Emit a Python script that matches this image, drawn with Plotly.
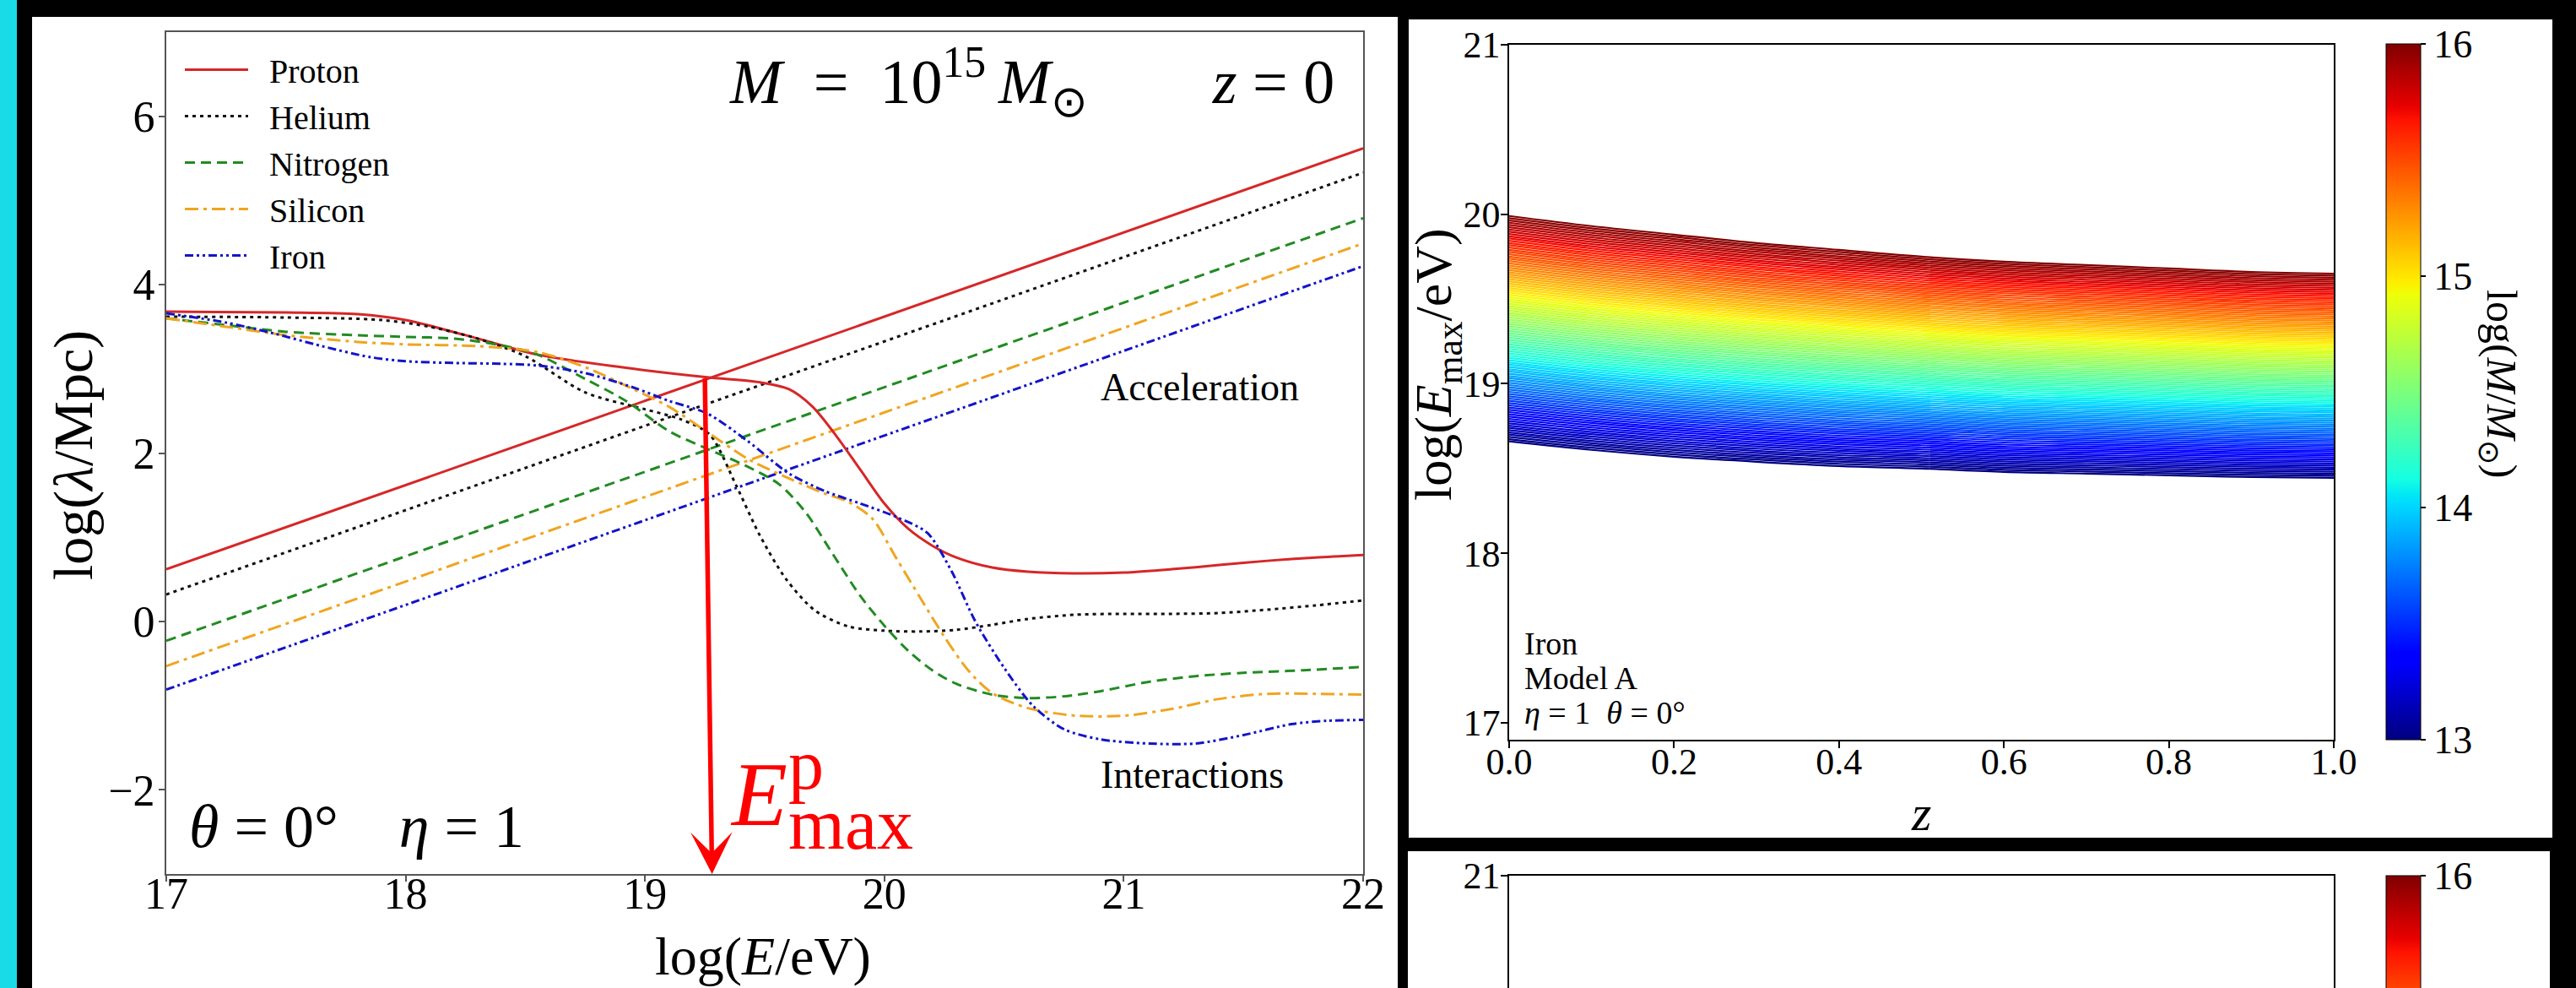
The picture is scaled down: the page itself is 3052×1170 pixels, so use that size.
import numpy as np
import plotly.graph_objects as go
from plotly.colors import sample_colorscale

W, H = 3052, 1170
FONT = "Liberation Serif"

# ---------------- Left panel data ----------------
species = ["Proton", "Helium", "Nitrogen", "Silicon", "Iron"]
colors = ["#d62728", "#111111", "#228b22", "#f0a520", "#1414c8"]
dashes = ["solid", "4px,5px", "12px,7px", "16px,6px,4px,6px", "10px,4px,3px,4px,3px,4px"]

# acceleration lengths (straight lines) at log E = 17 and 22
acc_x = [17.0, 22.0]
acc_proton = [0.62, 5.62]
acc_helium = [0.32, 5.33]
acc_nitrogen = [-0.23, 4.79]
acc_silicon = [-0.53, 4.49]
acc_iron = [-0.81, 4.22]

# interaction lengths
int_x_proton = [17.0, 17.5, 17.8, 18.0, 18.25, 18.55, 18.9, 19.26, 19.48, 19.6, 19.7, 19.8, 19.9,
                20.0, 20.1, 20.2, 20.3, 20.45, 20.6, 20.8, 21.0, 21.2, 21.4, 21.6, 21.8, 22.0]
int_y_proton = [3.68, 3.67, 3.65, 3.58, 3.40, 3.17, 3.02, 2.90, 2.84, 2.76, 2.55, 2.20, 1.80,
                1.40, 1.10, 0.90, 0.76, 0.64, 0.59, 0.57, 0.58, 0.62, 0.67, 0.72, 0.76, 0.79]

int_x_helium = [17.0, 17.5, 17.9, 18.1, 18.3, 18.5, 18.75, 19.0, 19.15, 19.27, 19.38, 19.48, 19.59,
                19.71, 19.85, 20.0, 20.15, 20.3, 20.45, 20.6, 20.8, 21.0, 21.2, 21.4, 21.6, 21.8, 22.0]
int_y_helium = [3.62, 3.61, 3.58, 3.50, 3.36, 3.15, 2.72, 2.52, 2.40, 2.22, 1.62, 1.02, 0.50,
                0.13, -0.06, -0.11, -0.12, -0.10, -0.04, 0.03, 0.08, 0.09, 0.09, 0.10, 0.14, 0.19, 0.25]

int_x_nitrogen = [17.0, 17.25, 17.5, 17.8, 18.0, 18.2, 18.4, 18.55, 18.75, 18.92, 19.1, 19.26, 19.42,
                  19.56, 19.67, 19.78, 19.9, 20.0, 20.1, 20.2, 20.3, 20.45, 20.6, 20.75, 20.9, 21.1,
                  21.3, 21.5, 21.75, 22.0]
int_y_nitrogen = [3.60, 3.52, 3.44, 3.40, 3.38, 3.36, 3.28, 3.17, 2.88, 2.62, 2.26, 2.05, 1.85,
                  1.63, 1.30, 0.82, 0.30, -0.05, -0.35, -0.58, -0.74, -0.87, -0.91, -0.89, -0.83, -0.72,
                  -0.65, -0.61, -0.58, -0.54]

int_x_silicon = [17.0, 17.25, 17.5, 17.8, 18.0, 18.3, 18.55, 18.75, 18.95, 19.1, 19.26, 19.43, 19.6,
                 19.75, 19.85, 19.95, 20.05, 20.15, 20.25, 20.35, 20.45, 20.6, 20.8, 21.0, 21.2, 21.4,
                 21.6, 21.8, 22.0]
int_y_silicon = [3.60, 3.50, 3.40, 3.32, 3.29, 3.27, 3.20, 3.02, 2.76, 2.55, 2.25, 1.93, 1.70,
                 1.52, 1.42, 1.22, 0.75, 0.28, -0.18, -0.58, -0.85, -1.03, -1.12, -1.12, -1.04, -0.92,
                 -0.86, -0.86, -0.87]

int_x_iron = [17.0, 17.25, 17.45, 17.65, 17.85, 18.0, 18.2, 18.4, 18.55, 18.75, 18.95, 19.1, 19.26,
              19.43, 19.6, 19.75, 19.9, 20.05, 20.18, 20.28, 20.38, 20.5, 20.62, 20.75, 20.9, 21.1,
              21.3, 21.5, 21.7, 21.85, 22.0]
int_y_iron = [3.66, 3.55, 3.42, 3.27, 3.14, 3.09, 3.07, 3.06, 3.04, 2.95, 2.78, 2.62, 2.47,
              2.14, 1.76, 1.55, 1.40, 1.24, 1.05, 0.60, 0.0, -0.55, -1.0, -1.28, -1.40, -1.45,
              -1.45, -1.35, -1.22, -1.18, -1.17]

# E_max^p arrow (from crossing point down to the axis)
arrow_x = [19.25, 19.28]
arrow_y = [2.90, -3.0]

left_xticks = [17, 18, 19, 20, 21, 22]
left_yticks = [-2, 0, 2, 4, 6]

# ---------------- Right panel data ----------------
z_grid = [0.0, 0.1, 0.2, 0.3, 0.4, 0.5, 0.6, 0.7, 0.8, 0.9, 1.0]
emax_top = [19.99, 19.93, 19.88, 19.83, 19.79, 19.75, 19.72, 19.70, 19.68, 19.66, 19.65]   # log M = 16
emax_bottom = [18.66, 18.61, 18.57, 18.54, 18.515, 18.50, 18.48, 18.47, 18.46, 18.45, 18.445]  # log M = 13
logM_min, logM_max = 13.0, 16.0
n_masses = 101
right_xticks = [0.0, 0.2, 0.4, 0.6, 0.8, 1.0]
right_yticks = [17, 18, 19, 20, 21]
cbar_ticks = [13, 14, 15, 16]

# matplotlib 'jet'
jet = [[0.0, "rgb(0,0,128)"], [0.11, "rgb(0,0,255)"], [0.125, "rgb(0,0,255)"],
       [0.34, "rgb(0,219,255)"], [0.35, "rgb(0,229,247)"], [0.375, "rgb(21,255,226)"],
       [0.64, "rgb(238,255,8)"], [0.65, "rgb(247,245,0)"], [0.66, "rgb(255,236,0)"],
       [0.89, "rgb(255,19,0)"], [0.91, "rgb(232,0,0)"], [1.0, "rgb(128,0,0)"]]

# ---------------- geometry helpers (layout) ----------------
def px(x):
    return x / W

def py(y):
    return 1 - y / H

fig = go.Figure()

# left panel traces
acc_all = [acc_proton, acc_helium, acc_nitrogen, acc_silicon, acc_iron]
int_all = [(int_x_proton, int_y_proton), (int_x_helium, int_y_helium),
           (int_x_nitrogen, int_y_nitrogen), (int_x_silicon, int_y_silicon),
           (int_x_iron, int_y_iron)]
for name, c, d, acc, (ix, iy) in zip(species, colors, dashes, acc_all, int_all):
    fig.add_trace(go.Scatter(x=acc_x, y=acc, mode="lines", showlegend=False,
                             line=dict(color=c, width=3, dash=d), xaxis="x", yaxis="y"))
for name, c, d, acc, (ix, iy) in zip(species, colors, dashes, acc_all, int_all):
    fig.add_trace(go.Scatter(x=ix, y=iy, mode="lines", name="\u00a0\u00a0" + name, showlegend=True,
                             line=dict(color=c, width=3, dash=d, shape="spline", smoothing=0.8),
                             xaxis="x", yaxis="y"))

# right panel fan of lines
logM_levels = np.linspace(logM_min, logM_max, n_masses)
line_cols = sample_colorscale(jet, list((logM_levels - logM_min) / (logM_max - logM_min)))
top = np.array(emax_top)
bot = np.array(emax_bottom)
for lm, col in zip(logM_levels, line_cols):
    f = (lm - logM_min) / (logM_max - logM_min)
    fig.add_trace(go.Scatter(x=z_grid, y=bot + f * (top - bot), mode="lines", showlegend=False,
                             line=dict(color=col, width=2.2, shape="spline"),
                             xaxis="x2", yaxis="y2", hoverinfo="skip"))

def cbar(ytop_px):
    return dict(x=px(2827), xanchor="left", xpad=0, y=py(ytop_px), yanchor="top", ypad=0,
                len=824 / H, lenmode="fraction", thickness=41, thicknessmode="pixels",
                outlinewidth=1, outlinecolor="black", tickvals=cbar_ticks, ticks="outside",
                ticklen=6, tickwidth=1.5, tickcolor="black",
                tickfont=dict(family=FONT, size=46, color="black"))

fig.add_trace(go.Scatter(x=z_grid[:1], y=emax_bottom[:1], mode="markers", showlegend=False,
                         marker=dict(size=1, opacity=0, color=[logM_min], cmin=logM_min, cmax=logM_max,
                                     colorscale=jet, showscale=True, colorbar=cbar(52)),
                         xaxis="x2", yaxis="y2", hoverinfo="skip"))
fig.add_trace(go.Scatter(x=z_grid[:1], y=emax_bottom[:1], mode="markers", showlegend=False,
                         marker=dict(size=1, opacity=0, color=[logM_min], cmin=logM_min, cmax=logM_max,
                                     colorscale=jet, showscale=True, colorbar=cbar(1037)),
                         xaxis="x3", yaxis="y3", hoverinfo="skip"))

tickfont_l = dict(family=FONT, size=52, color="black")
tickfont_r = dict(family=FONT, size=44, color="black")
common = dict(showgrid=False, zeroline=False, ticks="outside", showline=True)

fig.update_layout(
    width=W, height=H, autosize=False,
    margin=dict(l=0, r=0, t=0, b=0, pad=0, autoexpand=False),
    paper_bgcolor="black", plot_bgcolor="white",
    showlegend=True,
    legend=dict(x=px(214), y=py(50), xanchor="left", yanchor="top",
                bgcolor="rgba(0,0,0,0)", borderwidth=0,
                font=dict(family=FONT, size=40, color="black"), itemwidth=75,
                tracegroupgap=0),
    xaxis=dict(domain=[px(197), px(1615)], range=[17, 22], tickvals=left_xticks, anchor="y",
               mirror=True, linecolor="#555555", linewidth=2, ticklen=7, tickwidth=2,
               tickcolor="#555555", tickfont=tickfont_l, ticklabelstandoff=-30, **common),
    yaxis=dict(domain=[py(1035), py(38)], range=[-3, 7], tickvals=left_yticks, anchor="x",
               mirror=True, linecolor="#555555", linewidth=2, ticklen=7, tickwidth=2,
               tickcolor="#555555", tickfont=tickfont_l, ticklabelstandoff=-6, **common),
    xaxis2=dict(domain=[px(1788), px(2765)], range=[0, 1], tickvals=right_xticks, tickformat=".1f",
                anchor="y2", mirror=True, linecolor="black", linewidth=1.5, ticklen=8, tickwidth=1.5,
                tickcolor="black", tickfont=tickfont_r, ticklabelstandoff=-22, **common),
    yaxis2=dict(domain=[py(876), py(53)], range=[16.9, 21], tickvals=right_yticks, anchor="x2",
                mirror=True, linecolor="black", linewidth=1.5, ticklen=8, tickwidth=1.5,
                tickcolor="black", tickfont=tickfont_r, ticklabelstandoff=-8, **common),
    xaxis3=dict(domain=[px(1788), px(2765)], range=[0, 1], anchor="y3", side="top",
                showticklabels=False, showgrid=False, zeroline=False, ticks="", showline=True,
                mirror=False, linecolor="black", linewidth=1.5),
    yaxis3=dict(domain=[0, py(1037)], range=[21 - 133 / 201, 21], tickvals=[21], anchor="x3",
                mirror=True, linecolor="black", linewidth=1.5, ticklen=8, tickwidth=1.5,
                tickcolor="black", tickfont=tickfont_r, ticklabelstandoff=-8, **common),
)

# background panels
shapes = [
    dict(type="rect", xref="paper", yref="paper", x0=0, x1=px(20), y0=0, y1=1,
         fillcolor="#18dbe7", line=dict(width=0), layer="below"),
    dict(type="rect", xref="paper", yref="paper", x0=px(38), x1=px(1656), y0=0, y1=py(20),
         fillcolor="white", line=dict(width=0), layer="below"),
    dict(type="rect", xref="paper", yref="paper", x0=px(1669), x1=px(3024), y0=py(992), y1=py(23),
         fillcolor="white", line=dict(width=0), layer="below"),
    dict(type="rect", xref="paper", yref="paper", x0=px(1668), x1=px(3021), y0=0, y1=py(1008),
         fillcolor="white", line=dict(width=0), layer="below"),
]
fig.update_layout(shapes=shapes)

def ann(text, x, y, size, xanchor="left", yanchor="middle", color="black", angle=0):
    return dict(text=text, x=px(x), y=py(y), xref="paper", yref="paper", xanchor=xanchor,
                yanchor=yanchor, showarrow=False, textangle=angle,
                font=dict(family=FONT, size=size, color=color))

nb = "\u00a0"
en = "\u2002"
em = "\u2003"
annotations = [
    ann("<i>M</i>" + en + "=" + en + "10<sup>15</sup>\u2009<i>M</i><sub>⊙</sub>" + em + em
        + "<i>z</i> = 0", 1583, 97, 74, xanchor="right"),
    ann("<i>θ</i> = 0°" + nb * 4 + "<i>η</i> = 1", 222, 979, 72),
    ann("Acceleration", 1302, 459, 46),
    ann("Interactions", 1302, 917, 46),
    ann("<i>E</i>", 863, 940, 108, color="red"),
    ann("p", 932, 905, 84, color="red"),
    ann("max", 932, 976, 86, color="red"),
    ann("log(<i>λ</i>/Mpc)", 87, 539, 66, xanchor="center", angle=-90),
    ann("log(<i>E</i>/eV)", 904, 1132, 64, xanchor="center"),
    ann("log(<i>E</i><sub>max</sub>/eV)", 1702, 432, 62, xanchor="center", angle=-90),
    ann("<i>z</i>", 2276, 963, 60, xanchor="center"),
    ann("Iron", 1804, 762, 38),
    ann("Model A", 1804, 803, 38),
    ann("<i>η</i> = 1" + nb * 2 + "<i>θ</i> = 0°", 1804, 844, 38),
    ann("log(<i>M</i>/<i>M</i><sub>⊙</sub>)", 2960, 454, 50, xanchor="center", angle=90),
    dict(x=arrow_x[1], y=arrow_y[1], ax=arrow_x[0], ay=arrow_y[0], xref="x", yref="y",
         axref="x", ayref="y", showarrow=True, arrowhead=3, arrowsize=1.5, arrowwidth=5.5,
         arrowcolor="red", standoff=0, text=""),
]
fig.update_layout(annotations=annotations)

fig.write_html("out.html", config={"displayModeBar": False},
               post_script="document.body.style.margin='0px';document.body.style.background='black';")
